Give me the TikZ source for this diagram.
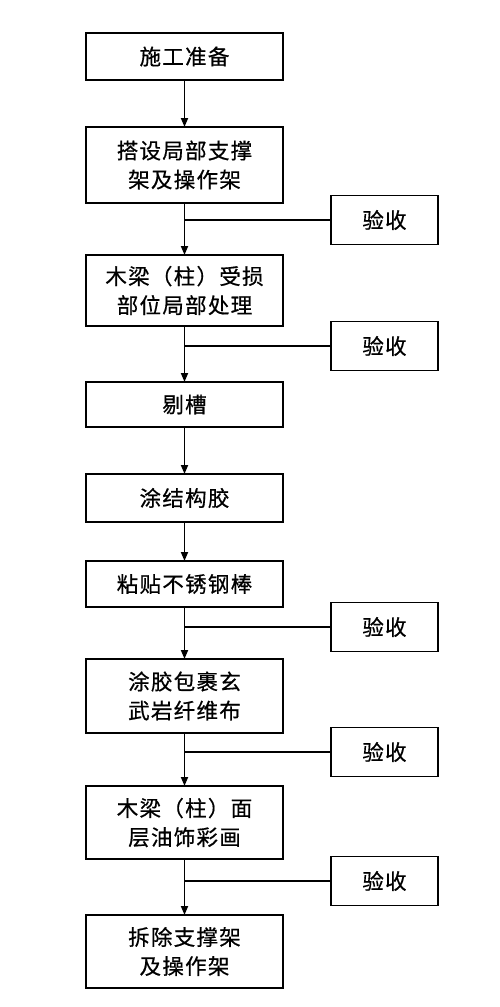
\documentclass[tikz,border=0pt]{standalone}
\usepackage{fontspec}
\setmainfont{Noto Sans CJK SC}[LetterSpace=6,FakeBold=0.6]
\usetikzlibrary{arrows.meta}
\begin{document}
\begin{tikzpicture}[x=1pt,y=-1pt,
  every node/.style={inner sep=0pt,outer sep=0pt},
  stepbox/.style={draw,line width=1.9pt,minimum width=197pt,align=center,
    font=\fontsize{21.5}{29}\selectfont},
  checkbox/.style={draw,line width=1.9pt,minimum width=107pt,minimum height=49pt,
    font=\fontsize{21.5}{29}\selectfont},
  flow/.style={line width=1.7pt,-{Triangle[length=9pt,width=7pt]}},
  branch/.style={line width=1.7pt}]
\useasboundingbox (0,0) rectangle (500,1007);
\fill[white] (0,0) rectangle (500,1007);
\node[stepbox,minimum height=47pt] (b1) at (184.5,56.5) {施工准备};
\node[stepbox,minimum height=76pt] (b2) at (184.5,165) {搭设局部支撑\\架及操作架};
\node[stepbox,minimum height=71pt] (b3) at (184.5,290.5) {木梁（柱）受损\\部位局部处理};
\node[stepbox,minimum height=45pt] (b4) at (184.5,404.5) {剔槽};
\node[stepbox,minimum height=48pt] (b5) at (184.5,498) {涂结构胶};
\node[stepbox,minimum height=46pt] (b6) at (184.5,584) {粘贴不锈钢棒};
\node[stepbox,minimum height=74pt] (b7) at (184.5,696) {涂胶包裹玄\\武岩纤维布};
\node[stepbox,minimum height=73pt] (b8) at (184.5,822.5) {木梁（柱）面\\层油饰彩画};
\node[stepbox,minimum height=73pt] (b9) at (184.5,951.5) {拆除支撑架\\及操作架};
\node[checkbox] (y1) at (384.5,220) {验收};
\node[checkbox] (y2) at (384.5,346) {验收};
\node[checkbox] (y3) at (384.5,627) {验收};
\node[checkbox] (y4) at (384.5,752) {验收};
\node[checkbox] (y5) at (384.5,881) {验收};
\draw[flow] (b1) -- (b2);
\draw[flow] (b2) -- (b3);
\draw[flow] (b3) -- (b4);
\draw[flow] (b4) -- (b5);
\draw[flow] (b5) -- (b6);
\draw[flow] (b6) -- (b7);
\draw[flow] (b7) -- (b8);
\draw[flow] (b8) -- (b9);
\draw[branch] (y1.west) -- (y1.west -| b2.south);
\draw[branch] (y2.west) -- (y2.west -| b3.south);
\draw[branch] (y3.west) -- (y3.west -| b6.south);
\draw[branch] (y4.west) -- (y4.west -| b7.south);
\draw[branch] (y5.west) -- (y5.west -| b8.south);
\end{tikzpicture}
\end{document}
